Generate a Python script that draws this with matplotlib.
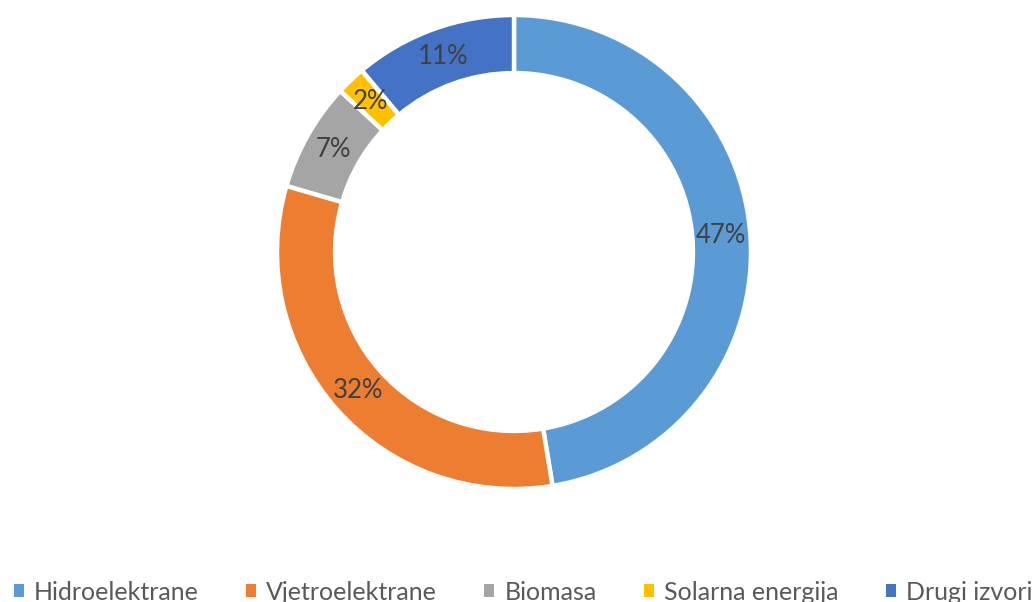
import matplotlib
matplotlib.use("Agg")
import matplotlib.pyplot as plt
from matplotlib.patches import Patch
import numpy as np

categories = ["Hidroelektrane", "Vjetroelektrane", "Biomasa", "Solarna energija", "Drugi izvori"]
values = [47.4, 32.1, 7.4, 2.0, 11.1]
labels = ["47%", "32%", "7%", "2%", "11%"]
colors = ["#5B9BD5", "#ED7D31", "#A5A5A5", "#FFC000", "#4472C4"]

plt.rcParams['font.family'] = ['Lato', 'DejaVu Sans']

W, H = 1034, 602
fig = plt.figure(figsize=(W / 100, H / 100), dpi=100)
cx, cy, r = 514, 252, 237
ax = fig.add_axes([(cx - r) / W, (H - cy - r) / H, 2 * r / W, 2 * r / H])

width = 0.245
wedges, _ = ax.pie(values, startangle=90, counterclock=False, colors=colors,
                   radius=1.0, wedgeprops=dict(width=width, edgecolor="white", linewidth=3.2))
total = sum(values)
start = 90.0
for v, lab in zip(values, labels):
    ang = np.deg2rad(start - v / total * 360 / 2)
    rr = 1 - width / 2
    ax.text(rr * np.cos(ang), rr * np.sin(ang), lab, ha="center", va="center",
            fontsize=18.5, color="#404040")
    start -= v / total * 360
ax.set_xlim(-1, 1)
ax.set_ylim(-1, 1)
ax.set_aspect("equal")
ax.axis("off")

handles = [Patch(facecolor=c, edgecolor="none") for c in colors]
fig.legend(handles, categories, loc="center", bbox_to_anchor=(0.5 + 6 / W, 10 / H), ncol=5,
           frameon=False, fontsize=18, handlelength=0.4, handleheight=0.4,
           handletextpad=0.4, columnspacing=1.9, labelcolor="#595959",
           borderpad=0, borderaxespad=0)

fig.savefig("out.png", dpi=100)
